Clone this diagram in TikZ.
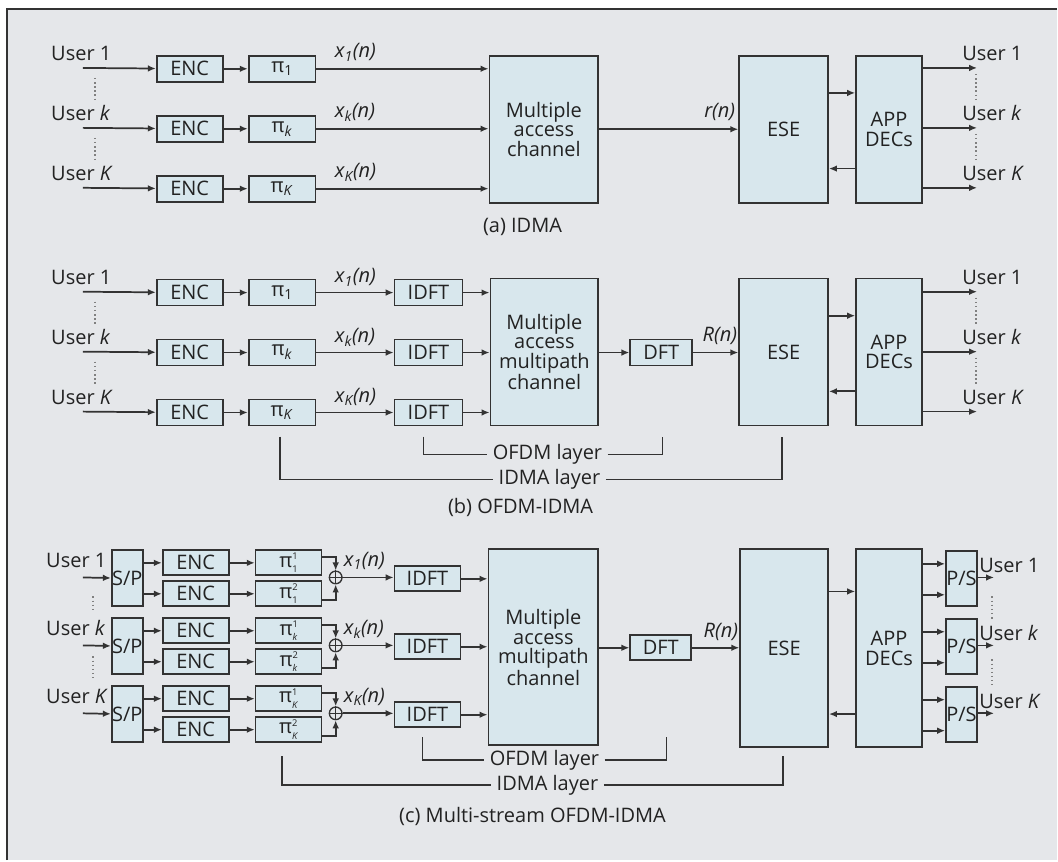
\documentclass[tikz,border=0pt]{standalone}
\usepackage{fontspec}
\setmainfont{Open Sans}
\usetikzlibrary{arrows.meta,calc}
\definecolor{bgc}{HTML}{E5E7EA}
\definecolor{boxc}{HTML}{D8E7ED}
\definecolor{linec}{HTML}{333333}
\definecolor{textc}{HTML}{222222}
\newcommand\bx[7][]{\node[box,anchor=north west,minimum width={((#5)-(#3))*0.75pt},minimum height={((#6)-(#4))*0.75pt},#1] (#2) at (#3,#4) {#7};}
\newcommand\sig[1]{\textit{x\textsubscript{#1}(n)}}
\newcommand\pis[2]{π\rlap{\raisebox{5.8pt}{\fontsize{7}{7}\selectfont #1}}\raisebox{-4.4pt}{\fontsize{7}{7}\selectfont #2}}
\tikzset{
  box/.style={draw=linec, fill=boxc, line width=1.3pt, inner sep=0pt, text=textc,
    font=\fontsize{15}{14.8}\selectfont, align=center},
  arr/.style={draw=linec, line width=1.3pt, -{Latex[length=6pt,width=5pt]}},
  ln/.style={draw=linec, line width=1.3pt},
  lbl/.style={font=\fontsize{15}{15}\selectfont, inner sep=0pt, text=textc},
  lay/.style={lbl, inner xsep=4pt},
  dots/.style={draw=gray, line width=1.1pt, dotted},
  adder/.style={circle, draw=linec, line width=1pt, inner sep=0pt, minimum size=9.5pt}
}
\begin{document}
\begin{tikzpicture}[x=0.75pt,y=-0.75pt]
\fill[white] (0,0) rectangle (1058,861);
\fill[bgc] (7,9) rectangle (1058,861);
\draw[linec, line width=1.5pt] (7,861) -- (7,9) -- (1058,9);

% ================= (a) IDMA =================
\bx{maca}{489}{55}{598}{202}{Multiple\\access\\channel}
\bx{esea}{739}{55}{828}{202}{ESE}
\bx{appa}{856}{55}{922}{202}{APP\\DECs}
\foreach \r/\y/\t in {1/68/1,k/128/\textit{k},K/188/\textit{K}}{
  \bx{ea\r}{156}{\y-13}{222}{\y+13}{ENC}
  \bx{pa\r}{248}{\y-13}{315}{\y+13}{π\textsubscript{\t}}
  \coordinate (ia\r) at (83,\y);
  \coordinate (oa\r) at (978,\y);
  \draw[arr] (ia\r) -- (ea\r);
  \draw[arr] (ea\r) -- (pa\r);
  \draw[arr] (pa\r) -- (pa\r -| maca.west);
  \draw[arr] (appa.east |- oa\r) -- (oa\r);
  \node[lbl,anchor=base west] (ula\r) at (51,\y-7) {User \t};
  \node[lbl,anchor=base west] (ura\r) at (963,\y-7) {User \t};
  \node[lbl,anchor=base west] (xa\r) at (335,\y-10) {\sig{\t}};
}
\draw[arr] (maca.east) -- (esea.west);
\node[lbl,anchor=base east] (ra) at (736,118) {\textit{r(n)}};
\draw[arr] ($(esea.north east)+(0,38)$) -- ($(appa.north west)+(0,38)$);
\draw[arr] ($(appa.south west)+(0,-35)$) -- ($(esea.south east)+(0,-35)$);
\draw[dots] (95,78) -- (95,100) (95,138) -- (95,162);
\draw[dots] (977,74) -- (977,100) (977,134) -- (977,162);
\node[lbl] (capa) at (523,227) {(a) IDMA};

% ================= (b) OFDM-IDMA =================
\bx{macb}{490}{278}{598}{425}{Multiple\\access\\multipath\\channel}
\bx{dftb}{630}{339}{692}{365}{DFT}
\bx{eseb}{739}{278}{828}{425}{ESE}
\bx{appb}{856}{278}{922}{425}{APP\\DECs}
\foreach \r/\y/\t in {1/292/1,k/352/\textit{k},K/412/\textit{K}}{
  \bx{eb\r}{156}{\y-13}{222}{\y+13}{ENC}
  \bx{pb\r}{248}{\y-13}{315}{\y+13}{π\textsubscript{\t}}
  \bx{ib\r}{394}{\y-13}{462}{\y+13}{IDFT}
  \coordinate (inb\r) at (83,\y);
  \coordinate (ob\r) at (978,\y);
  \draw[arr] (inb\r) -- (eb\r);
  \draw[arr] (eb\r) -- (pb\r);
  \draw[arr] (pb\r) -- (ib\r);
  \draw[arr] (ib\r) -- (ib\r -| macb.west);
  \draw[arr] (appb.east |- ob\r) -- (ob\r);
  \node[lbl,anchor=base west] (ulb\r) at (51,\y-7) {User \t};
  \node[lbl,anchor=base west] (urb\r) at (963,\y-7) {User \t};
  \node[lbl,anchor=base west] (xb\r) at (335,\y-9) {\sig{\t}};
}
\draw[arr] (macb.east |- dftb) -- (dftb);
\draw[arr] (dftb) -- (eseb.west |- dftb);
\node[lbl,anchor=base east] (rb) at (738,342) {\textit{R(n)}};
\draw[arr] ($(eseb.north east)+(0,38)$) -- ($(appb.north west)+(0,38)$);
\draw[arr] ($(appb.south west)+(0,-35)$) -- ($(eseb.south east)+(0,-35)$);
\draw[dots] (95,302) -- (95,324) (95,362) -- (95,386);
\draw[dots] (977,298) -- (977,324) (977,358) -- (977,386);
\node[lay] (ofb) at (548,455) {OFDM layer};
\coordinate (ofbl) at (424,437);
\coordinate (ofbr) at (663,437);
\draw[ln] (ofbl) |- (ofb.west);
\draw[ln] (ofb.east) -| (ofbr);
\node[lay] (idb) at (550,480) {IDMA layer};
\coordinate (idbl) at (280,437);
\coordinate (idbr) at (783,437);
\draw[ln] (idbl) |- (idb.west);
\draw[ln] (idb.east) -| (idbr);
\node[lbl] (capb) at (521,508) {(b) OFDM-IDMA};

% ================= (c) Multi-stream OFDM-IDMA =================
\bx{macc}{488}{549}{598}{745}{Multiple\\access\\multipath\\channel}
\bx{dftc}{630}{635}{691}{660}{DFT}
\bx{esec}{740}{549}{828}{747}{ESE}
\bx{appc}{856}{549}{922}{747}{APP\\DECs}
\foreach \r/\c/\t in {1/578/1,k/646/\textit{k},K/714/\textit{K}}{
  \bx{spc\r}{111}{\c-28}{142}{\c+28}{S/P}
  \bx{eu\r}{162}{\c-28}{228}{\c-3}{ENC}
  \bx{el\r}{162}{\c+3}{228}{\c+28}{ENC}
  \bx{pu\r}{255}{\c-28}{321}{\c-3}{\pis{1}{\t}}
  \bx{pl\r}{255}{\c+3}{321}{\c+28}{\pis{2}{\t}}
  \node[adder] (ad\r) at (336,\c) {};
  \draw[linec, line width=1pt] (ad\r.north) -- (ad\r.south) (ad\r.west) -- (ad\r.east);
  \bx{idc\r}{394}{\c-12}{460}{\c+13}{IDFT}
  \bx{ps\r}{946}{\c-27}{977}{\c+28}{P/S}
  \coordinate (ic\r) at (83,\c);
  \coordinate (oc\r) at (995,\c);
  \coordinate (psu\r) at ($(ps\r.west)+(0,-15)$);
  \coordinate (psl\r) at ($(ps\r.west)+(0,16)$);
  \draw[arr] (ic\r) -- (spc\r);
  \draw[arr] (spc\r.east |- eu\r) -- (eu\r);
  \draw[arr] (spc\r.east |- el\r) -- (el\r);
  \draw[arr] (eu\r) -- (pu\r);
  \draw[arr] (el\r) -- (pl\r);
  \draw[arr] ([yshift=4.5pt]pu\r.east) -| (ad\r.north);
  \draw[arr] ([yshift=-4.5pt]pl\r.east) -| (ad\r.south);
  \draw[arr] (ad\r.east) -- (idc\r.west |- ad\r);
  \draw[arr] (idc\r) -- (idc\r -| macc.west);
  \draw[arr] (appc.east |- psu\r) -- (psu\r);
  \draw[arr] (appc.east |- psl\r) -- (psl\r);
  \draw[arr] (ps\r.east |- oc\r) -- (oc\r);
  \node[lbl,anchor=base west] (ulc\r) at (46,\c-10) {User \t};
  \node[lbl,anchor=base west] (urc\r) at (980,\c-5) {User \t};
  \node[lbl,anchor=base west] (xc\r) at (344,\c-11) {\sig{\t}};
}
\draw[arr] (macc.east |- dftc) -- (dftc);
\draw[arr] (dftc) -- (esec.west |- dftc);
\node[lbl,anchor=base east] (rc) at (739,638) {\textit{R(n)}};
\draw[arr] ($(esec.north east)+(0,43)$) -- ($(appc.north west)+(0,43)$);
\draw[arr] ($(appc.south west)+(0,-34)$) -- ($(esec.south east)+(0,-34)$);
\draw[dots] (93,597) -- (93,612) (93,657) -- (93,680);
\draw[dots] (993,597) -- (993,620) (993,660) -- (993,685);
\node[lay] (ofc) at (545,761) {OFDM layer};
\coordinate (ofcl) at (423,738);
\coordinate (ofcr) at (667,738);
\draw[ln] (ofcl) |- (ofc.west);
\draw[ln] (ofc.east) -| (ofcr);
\node[lay] (idc) at (548,786) {IDMA layer};
\coordinate (idcl) at (282,757);
\coordinate (idcr) at (784,757);
\draw[ln] (idcl) |- (idc.west);
\draw[ln] (idc.east) -| (idcr);
\node[lbl] (capc) at (533,817) {(c) Multi-stream OFDM-IDMA};
\end{tikzpicture}
\end{document}
